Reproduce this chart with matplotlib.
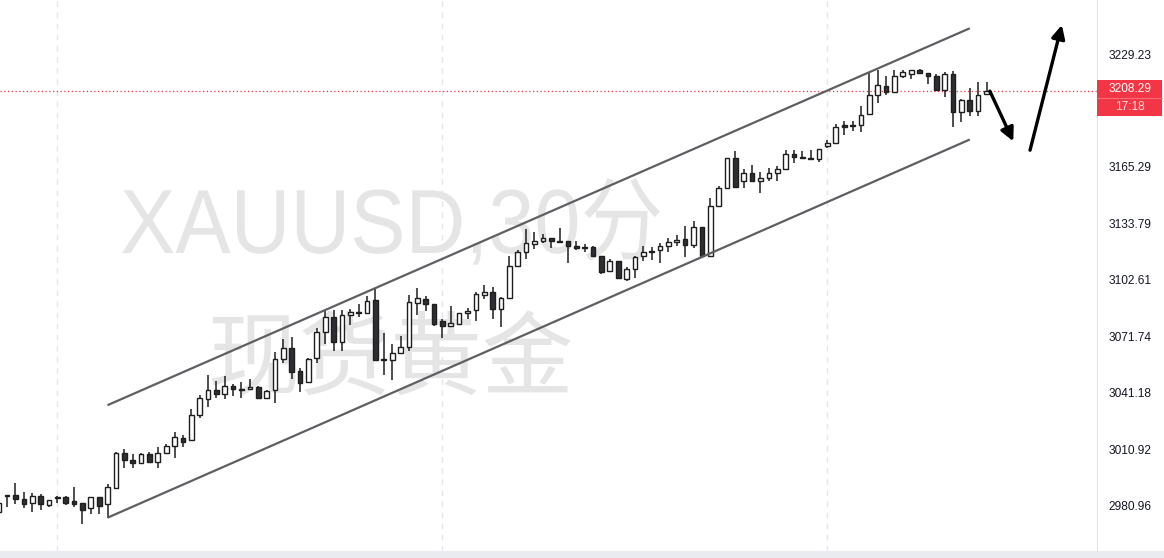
import numpy as np
import matplotlib.pyplot as plt
import matplotlib.transforms as mtrans
from matplotlib.patches import Rectangle, PathPatch
from matplotlib.textpath import TextPath
from matplotlib.font_manager import FontProperties
from matplotlib.ticker import FixedLocator, FixedFormatter, NullLocator

plt.rcParams.update({
    'font.family': ['Liberation Sans', 'Noto Sans CJK SC', 'DejaVu Sans'],
    'font.size': 9,
})

# 30分钟K线 (第一根只露出一点边)
opens = [2977.6, 2986.6, 2986.6, 2984.4, 2982.2, 2986.1, 2981.5, 2985.6, 2985.4, 2983.3,
         2982.2, 2979.6, 2985.4, 2981.7, 2990.5, 3008.7, 3005.0, 3003.4, 3008.2, 3004.3,
         3008.7, 3012.6, 3017.0, 3015.6, 3029.1, 3037.7, 3042.6, 3040.4, 3044.9, 3043.1,
         3043.1, 3044.4, 3038.6, 3042.6, 3059.3, 3065.3, 3053.0, 3046.7, 3059.9, 3074.1,
         3082.3, 3068.8, 3083.3, 3085.1, 3084.7, 3091.5, 3059.3, 3058.8, 3062.9, 3066.0,
         3089.9, 3092.1, 3089.3, 3080.2, 3077.4, 3078.7, 3084.2, 3086.0, 3094.4, 3096.1,
         3086.6, 3092.4, 3110.0, 3118.2, 3122.2, 3124.1, 3125.6, 3124.1, 3124.1, 3121.4,
         3120.8, 3120.8, 3115.9, 3107.6, 3113.1, 3103.0, 3108.5, 3115.9, 3118.4, 3119.0,
         3121.4, 3123.5, 3125.0, 3121.8, 3131.7, 3115.6, 3143.6, 3153.5, 3170.3, 3157.6,
         3161.7, 3157.2, 3159.1, 3161.7, 3164.1, 3172.5, 3170.6, 3170.3, 3169.7, 3177.2,
         3179.0, 3188.9, 3188.9, 3188.9, 3195.1, 3206.1, 3211.2, 3207.4, 3216.9, 3217.9,
         3220.2, 3218.5, 3216.9, 3208.8, 3217.9, 3196.0, 3203.1, 3196.6, 3206.5]
highs = [2982.6, 2986.6, 2993.0, 2988.4, 2987.9, 2987.0, 2984.0, 2986.1, 2986.1, 2991.0,
         2982.2, 2985.7, 2985.7, 2992.3, 3009.6, 3010.9, 3008.2, 3008.7, 3009.4, 3012.1,
         3013.5, 3020.1, 3018.3, 3032.3, 3040.0, 3050.7, 3047.6, 3050.3, 3045.8, 3046.7,
         3048.5, 3044.9, 3042.7, 3063.3, 3070.3, 3071.4, 3054.6, 3060.0, 3076.0, 3085.6,
         3086.0, 3086.0, 3086.6, 3089.3, 3093.9, 3097.6, 3073.7, 3067.4, 3071.9, 3094.4,
         3098.1, 3093.9, 3089.3, 3081.1, 3088.4, 3084.5, 3087.1, 3095.7, 3099.9, 3098.8,
         3093.3, 3115.8, 3119.1, 3130.6, 3129.1, 3127.8, 3125.6, 3131.5, 3124.1, 3124.1,
         3122.3, 3121.4, 3115.9, 3114.0, 3113.1, 3109.8, 3115.9, 3121.4, 3120.7, 3123.1,
         3125.9, 3127.4, 3132.4, 3135.2, 3131.9, 3147.7, 3154.8, 3170.5, 3174.4, 3164.1,
         3166.5, 3162.2, 3164.7, 3166.0, 3174.8, 3174.8, 3174.4, 3174.8, 3175.3, 3180.3,
         3189.6, 3191.3, 3191.3, 3199.9, 3218.8, 3220.2, 3216.9, 3220.2, 3220.2, 3220.2,
         3220.7, 3218.5, 3217.9, 3218.8, 3219.8, 3203.7, 3209.9, 3213.1, 3213.1]
lows = [2977.3, 2980.4, 2981.7, 2979.6, 2977.8, 2978.5, 2980.4, 2982.2, 2981.3, 2980.4,
        2971.4, 2976.4, 2976.4, 2974.3, 2989.6, 3000.8, 3000.8, 3003.2, 3003.4, 3000.8,
        3008.2, 3006.1, 3012.2, 3015.2, 3027.5, 3033.7, 3038.6, 3037.7, 3039.5, 3038.3,
        3042.6, 3037.7, 3038.6, 3035.9, 3057.0, 3048.5, 3041.8, 3046.5, 3057.5, 3067.3,
        3063.8, 3063.8, 3078.0, 3082.0, 3084.7, 3058.8, 3050.8, 3048.0, 3062.9, 3063.8,
        3083.3, 3085.3, 3077.4, 3070.6, 3077.4, 3078.7, 3081.1, 3080.2, 3092.1, 3081.4,
        3077.0, 3092.4, 3110.0, 3114.0, 3119.4, 3123.2, 3119.9, 3123.2, 3111.8, 3119.0,
        3117.8, 3115.4, 3105.8, 3107.2, 3103.6, 3102.1, 3103.9, 3113.1, 3113.5, 3111.8,
        3117.8, 3121.4, 3115.4, 3120.0, 3114.8, 3115.4, 3143.6, 3153.5, 3153.9, 3153.5,
        3157.6, 3150.7, 3157.6, 3157.2, 3163.6, 3167.5, 3170.1, 3169.7, 3167.8, 3175.9,
        3178.2, 3183.4, 3185.6, 3184.7, 3195.1, 3201.4, 3206.1, 3207.4, 3215.6, 3215.0,
        3217.9, 3212.2, 3208.8, 3204.6, 3187.5, 3190.4, 3194.2, 3194.2, 3206.5]
closes = [2982.4, 2985.9, 2984.5, 2982.0, 2986.1, 2981.7, 2983.8, 2985.2, 2982.6, 2982.0,
          2978.7, 2985.4, 2980.8, 2990.9, 3008.7, 3005.0, 3003.4, 3008.2, 3004.3, 3008.7,
          3012.4, 3017.4, 3014.8, 3029.1, 3038.3, 3042.6, 3040.4, 3044.9, 3043.1, 3042.6,
          3044.4, 3038.6, 3042.2, 3059.6, 3065.3, 3052.6, 3046.5, 3059.3, 3073.9, 3082.3,
          3068.8, 3083.3, 3085.1, 3084.4, 3091.1, 3058.8, 3058.8, 3062.9, 3066.0, 3090.6,
          3092.6, 3089.3, 3078.7, 3077.4, 3078.9, 3084.2, 3085.6, 3094.8, 3095.7, 3086.6,
          3092.4, 3110.0, 3118.2, 3122.8, 3124.1, 3125.6, 3124.1, 3123.6, 3121.4, 3120.1,
          3120.1, 3115.9, 3107.1, 3113.1, 3103.6, 3108.5, 3115.3, 3118.1, 3118.1, 3121.4,
          3123.5, 3124.6, 3121.7, 3131.7, 3115.6, 3143.6, 3153.5, 3170.3, 3154.2, 3161.7,
          3157.6, 3158.9, 3161.7, 3164.1, 3172.5, 3170.6, 3170.1, 3169.7, 3175.3, 3179.0,
          3187.9, 3187.9, 3188.3, 3194.7, 3206.1, 3211.8, 3207.4, 3216.9, 3218.8, 3220.2,
          3218.5, 3216.9, 3208.8, 3217.9, 3196.0, 3203.1, 3196.6, 3206.1, 3208.29]

price_ticks = [2980.96, 3010.92, 3041.18, 3071.74, 3102.61, 3133.79, 3165.29, 3229.23]
last_price = 3208.29
countdown = "17:18"
day_breaks = [6, 52, 98]

# 通道线 (bar index, price)
chan_x = [12, 115]
chan_upper = [3034.5, 3244.0]
chan_lower = [2974.6, 3180.7]

# 两个箭头: 先回落再上涨
arrow_down = [(117.4, 3208.1), (120.2, 3179.7)]
arrow_up = [(122.2, 3174.7), (126.0, 3245.9)]

W, H = 1164, 558
PLOT_R = 1097
BOTTOM = 7
DARK = '#2e2f33'
EDGE = '#1e1e1e'
RED = '#f23645'
WM = '#e5e5e5'

fig = plt.figure(figsize=(W / 100, H / 100), dpi=100)
ax = fig.add_axes([0, BOTTOM / H, PLOT_R / W, (H - BOTTOM) / H])
ax.set_facecolor('none')

x = np.arange(len(opens)) - 1
o = np.array(opens)
c = np.array(closes)
up = c >= o

ax.vlines(x, lows, highs, color=EDGE, lw=1.1, zorder=2)
body_lo = np.minimum(o, c)
body_h = np.maximum(np.abs(c - o), 0.3)
ax.bar(x, body_h, bottom=body_lo, width=0.56,
       color=np.where(up, 'white', DARK), edgecolor=EDGE, linewidth=1.0, zorder=3)

for gx in day_breaks:
    ax.axvline(gx, color='#e3e6ec', lw=1.0, ls=(0, (4, 4)), zorder=0)

ax.plot(chan_x, chan_upper, color='#5f5f63', lw=1.6, zorder=4, solid_capstyle='butt')
ax.plot(chan_x, chan_lower, color='#5f5f63', lw=1.6, zorder=4, solid_capstyle='butt')

for (x0, y0), (x1, y1) in [arrow_down, arrow_up]:
    ax.annotate('', xy=(x1, y1), xytext=(x0, y0),
                arrowprops=dict(arrowstyle='-|>', color='black', lw=2.4,
                                mutation_scale=20, shrinkA=0, shrinkB=0), zorder=5)

ax.axhline(last_price, color=RED, lw=0.9, ls=(0, (1, 2)), zorder=1)

# 水印: 第一行字体偏窄, 用路径拉高一点 (放在坐标轴下面)
fp = FontProperties(family=['Liberation Sans', 'Noto Sans CJK SC'])
tp = TextPath((0, 0), 'XAUUSD,30分', size=100, prop=fp)
bb = tp.get_extents()
k = 538 / bb.width
tr = mtrans.Affine2D().scale(k, k * 1.1).translate(122 - bb.x0 * k, H - 253)
fig.patches.append(PathPatch(tr.transform_path(tp), transform=mtrans.IdentityTransform(),
                             facecolor=WM, edgecolor='none', zorder=-1))
ax.text(0.3555, 0.343, '现货黄金', transform=ax.transAxes, ha='center', va='center',
        fontsize=66, color=WM, zorder=0, family=['Noto Sans CJK SC'])

ax.set_yscale('log')
ax.set_xlim(-0.85, 130.2)
ax.set_ylim(2957.1, 3260.3)
ax.yaxis.tick_right()
ax.yaxis.set_major_locator(FixedLocator(price_ticks))
ax.yaxis.set_major_formatter(FixedFormatter([f'{t:.2f}' for t in price_ticks]))
ax.yaxis.set_minor_locator(NullLocator())
ax.tick_params(axis='y', length=0, pad=8, labelsize=8.6, labelcolor='#131722')
ax.set_xticks([])
for side in ['top', 'left', 'bottom']:
    ax.spines[side].set_visible(False)
ax.spines['right'].set_color('#e0e3eb')

# 底部时间轴条
fig.patches.append(Rectangle((0, 0), 1, BOTTOM / H, transform=fig.transFigure,
                             facecolor='#e9ebf1', edgecolor='none'))

# 当前价格标签
fig.patches.append(Rectangle((PLOT_R / W, 1 - 116 / H), 65 / W, 36 / H,
                             transform=fig.transFigure, facecolor=RED, edgecolor='none'))
fig.lines.append(plt.Line2D([PLOT_R / W, (PLOT_R + 65) / W], [1 - 98 / H] * 2,
                            transform=fig.transFigure, color='#f77c86', lw=0.6))
fig.text((PLOT_R + 33) / W, 1 - 89 / H, f'{last_price:.2f}', color='white',
         ha='center', va='center', fontsize=8.6)
fig.text((PLOT_R + 33) / W, 1 - 107 / H, countdown, color='#ffe0e3',
         ha='center', va='center', fontsize=8.6)

fig.savefig('out.png', dpi=100, facecolor='white')
